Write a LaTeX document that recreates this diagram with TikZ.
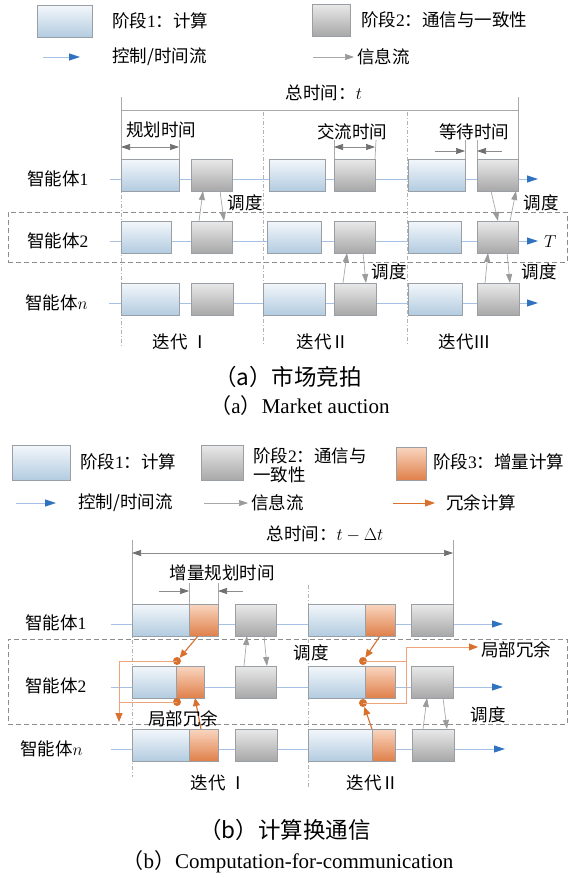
\documentclass[tikz,border=0pt]{standalone}
\usepackage{fontspec}
\setmainfont{Liberation Serif}
\newfontfamily\cjk{Noto Sans CJK SC}
\usetikzlibrary{arrows.meta,calc}
\definecolor{bluetop}{HTML}{F3F7FB}
\definecolor{bluebot}{HTML}{B3CCE0}
\definecolor{graytop}{HTML}{E9E9E9}
\definecolor{graybot}{HTML}{A8A8A8}
\definecolor{orgtop}{HTML}{F9D6C0}
\definecolor{orgbot}{HTML}{E0804A}
\definecolor{boxline}{HTML}{9A9FA6}
\definecolor{tlcol}{HTML}{A7C0E6}
\definecolor{tlarrow}{HTML}{2F72C0}
\definecolor{infocol}{HTML}{A8A8A8}
\definecolor{infotip}{HTML}{9A9A9A}
\definecolor{dimcol}{HTML}{6F6F6F}
\definecolor{orgcol}{HTML}{D8702E}
\definecolor{orglite}{HTML}{ECA47A}
\definecolor{dashcol}{HTML}{8C8C8C}
\definecolor{sepcol}{HTML}{B3B3B3}
\definecolor{vcol}{HTML}{A9A9A9}
\newcommand\zh[1]{{\cjk #1}}
\newcommand\mkbox[6]{\node[#1, minimum width={(#4-#3)*1pt}, minimum height={(#6-#5)*1pt}, anchor=north west] (#2) at (#3,#5) {};}
\tikzset{
  boxbase/.style={draw=boxline, line width=0.6pt, inner sep=0pt, outer sep=0pt},
  bluebox/.style={boxbase, top color=bluetop, bottom color=bluebot},
  graybox/.style={boxbase, top color=graytop, bottom color=graybot},
  orgbox/.style={boxbase, top color=orgtop, bottom color=orgbot},
  framebox/.style={draw=dashcol, line width=0.8pt, dash pattern=on 5pt off 3pt, inner sep=0pt, outer sep=0pt},
  tline/.style={draw=tlcol, line width=0.8pt, -{Triangle[length=11pt,width=7pt,color=tlarrow]}},
  info/.style={draw=infocol, line width=0.7pt, -{Triangle[length=9pt,width=6pt,color=infotip]}},
  dimone/.style={draw=dimcol!80, line width=0.7pt, -{Triangle[length=9pt,width=6pt,color=dimcol]}},
  dimtwo/.style={draw=dimcol!80, line width=0.7pt, {Triangle[length=9pt,width=6pt,color=dimcol]}-{Triangle[length=9pt,width=6pt,color=dimcol]}},
  vline/.style={draw=vcol, line width=0.7pt},
  sepline/.style={draw=sepcol, line width=0.6pt, dash pattern=on 4pt off 2pt on 1pt off 2pt},
  oarrow/.style={draw=orgcol, line width=1.1pt, -{Triangle[length=8pt,width=7pt]}},
  othin/.style={draw=orglite, line width=0.8pt},
  othinarrow/.style={draw=orglite, line width=0.8pt, -{Triangle[length=9pt,width=7pt,color=orgcol]}},
  legorg/.style={draw=orgcol, line width=1pt, -{Triangle[length=10pt,width=7pt]}},
  odot/.style={circle, fill=orgcol, inner sep=0pt, minimum size=8pt},
  lab/.style={inner sep=0pt, font=\fontsize{17.5}{20}\selectfont},
  captext/.style={inner sep=0pt, font=\fontsize{22.5}{26}\selectfont},
  capeng/.style={inner sep=0pt, font=\fontsize{21}{24}\selectfont}
}
\begin{document}
\begin{tikzpicture}[x=1pt,y=-1pt]
\useasboundingbox (0,0) rectangle (571,878);
\fill[white] (0,0) rectangle (571,878);

% ===================== (a) legend =====================
\mkbox{bluebox}{La1}{37}{92}{5}{37}
\node[lab, anchor=west] (La1t) at (112,21) {\zh{阶段}1\zh{：计算}};
\mkbox{graybox}{La2}{312}{350}{4}{36}
\node[lab, anchor=west] (La2t) at (361,20) {\zh{阶段}2\zh{：通信与一致性}};
\coordinate (La3s) at (43,57); \coordinate (La3e) at (80,57);
\draw[tline] (La3s) -- (La3e);
\node[lab, anchor=west] (La3t) at (112,57) {\zh{控制/时间流}};
\coordinate (La4s) at (313,57); \coordinate (La4e) at (354,57);
\draw[info] (La4s) -- (La4e);
\node[lab, anchor=west] (La4t) at (357,57) {\zh{信息流}};

% ===================== (a) diagram =====================
\mkbox{framebox}{aframe}{8}{567}{212}{262}
% separators
\coordinate (sa1t) at (121,159); \coordinate (sa1b) at (121,346);
\coordinate (sa2t) at (263,112); \coordinate (sa2b) at (263,346);
\coordinate (sa3t) at (407,112); \coordinate (sa3b) at (407,346);
\draw[sepline] (sa1t) -- (sa1b);
\draw[sepline] (sa2t) -- (sa2b);
\draw[sepline] (sa3t) -- (sa3b);
% total time
\coordinate (ta1) at (121,97); \coordinate (ta2) at (121,159);
\coordinate (ta3) at (518,97); \coordinate (ta4) at (518,159);
\coordinate (ta5) at (121,110); \coordinate (ta6) at (518,110);
\draw[vline] (ta1) -- (ta2);
\draw[vline] (ta3) -- (ta4);
\draw[vline] (ta5) -- (ta6);
\node[lab] (atot) at (324,93) {\zh{总时间：}$t$};
% timelines
\coordinate (a1s) at (110,179); \coordinate (a1e) at (538,179);
\coordinate (a2s) at (110,241); \coordinate (a2e) at (538,241);
\coordinate (ans) at (109,303); \coordinate (ane) at (538,303);
\draw[tline] (a1s) -- (a1e);
\draw[tline] (a2s) -- (a2e);
\draw[tline] (ans) -- (ane);
% row 1
\mkbox{bluebox}{a1b1}{121}{179}{159}{191}
\mkbox{graybox}{a1g1}{191}{232}{159}{191}
\mkbox{bluebox}{a1b2}{269}{325}{159}{191}
\mkbox{graybox}{a1g2}{334}{375}{159}{191}
\mkbox{bluebox}{a1b3}{408}{465}{159}{191}
\mkbox{graybox}{a1g3}{477}{518}{159}{191}
% row 2
\mkbox{bluebox}{a2b1}{121}{171}{221}{253}
\mkbox{graybox}{a2g1}{191}{232}{221}{253}
\mkbox{bluebox}{a2b2}{267}{321}{221}{253}
\mkbox{graybox}{a2g2}{334}{375}{221}{253}
\mkbox{bluebox}{a2b3}{408}{461}{221}{253}
\mkbox{graybox}{a2g3}{477}{518}{221}{253}
% row n
\mkbox{bluebox}{anb1}{121}{179}{283}{315}
\mkbox{graybox}{ang1}{191}{233}{283}{315}
\mkbox{bluebox}{anb2}{263}{325}{283}{315}
\mkbox{graybox}{ang2}{334}{376}{283}{315}
\mkbox{bluebox}{anb3}{408}{462}{283}{315}
\mkbox{graybox}{ang3}{477}{519}{283}{315}
% dimension marks
\coordinate (da1) at (179,140); \draw[vline] (da1) -- (a1b1.north east);
\coordinate (da2) at (121,147); \coordinate (da3) at (179,147);
\draw[dimtwo] (da2) -- (da3);
\node[lab] (aplan) at (161,130) {\zh{规划时间}};
\coordinate (db1) at (334,140); \draw[vline] (db1) -- (a1g2.north west);
\coordinate (db2) at (376,140); \draw[vline] (db2) -- (a1g2.north east);
\coordinate (db3) at (334,147); \coordinate (db4) at (375,147);
\draw[dimtwo] (db3) -- (db4);
\node[lab] (acomm) at (352,132) {\zh{交流时间}};
\coordinate (dc1) at (465,140); \draw[vline] (dc1) -- (a1b3.north east);
\coordinate (dc2) at (477,140); \draw[vline] (dc2) -- (a1g3.north west);
\coordinate (dc3) at (435,151); \coordinate (dc4) at (465,151);
\coordinate (dc5) at (502,151); \coordinate (dc6) at (477,151);
\draw[dimone] (dc3) -- (dc4);
\draw[dimone] (dc5) -- (dc6);
\node[lab] (await) at (474,132) {\zh{等待时间}};
% info arrows
\draw[info] ([xshift=8pt]a2g1.north west) -- ([xshift=12pt]a1g1.south west);
\draw[info] ([xshift=29pt]a1g1.south west) -- ([xshift=33pt]a2g1.north west);
\node[lab] (asch1) at (245,203) {\zh{调度}};
\draw[info] ([xshift=14pt]a1g3.south west) -- ([xshift=21pt]a2g3.north west);
\draw[info] ([xshift=33pt]a2g3.north west) -- ([xshift=39pt]a1g3.south west);
\node[lab] (asch2) at (541,203) {\zh{调度}};
\draw[info] ([xshift=9pt]ang2.north west) -- ([xshift=13pt]a2g2.south west);
\draw[info] ([xshift=29pt]a2g2.south west) -- ([xshift=32pt]ang2.north west);
\node[lab] (asch3) at (389,272) {\zh{调度}};
\draw[info] ([xshift=8pt]ang3.north west) -- ([xshift=11pt]a2g3.south west);
\draw[info] ([xshift=30pt]a2g3.south west) -- ([xshift=33pt]ang3.north west);
\node[lab] (asch4) at (539,272) {\zh{调度}};
% labels
\node[lab, anchor=west] (aag1) at (27,179) {\zh{智能体}1};
\node[lab, anchor=west] (aag2) at (27,241) {\zh{智能体}2};
\node[lab, anchor=west] (aagn) at (25,303) {\zh{智能体}$n$};
\node[lab, anchor=west] (aT) at (544,242) {$T$};
\node[lab] (ait1) at (181,342) {\zh{迭代 Ⅰ}};
\node[lab] (ait2) at (323,342) {\zh{迭代Ⅱ}};
\node[lab] (ait3) at (465,342) {\zh{迭代Ⅲ}};
\node[captext] (acap1) at (288,377) {\zh{（a）市场竞拍}};
\node[capeng] (acap2) at (300,406) {\zh{（}a\zh{）}Market auction};

% ===================== (b) legend =====================
\mkbox{bluebox}{Lb1}{12}{70}{445}{480}
\node[lab, anchor=west] (Lb1t) at (80,462) {\zh{阶段}1\zh{：计算}};
\mkbox{graybox}{Lb2}{201}{243}{445}{480}
\node[lab, anchor=west] (Lb2t) at (253,456) {\zh{阶段}2\zh{：通信与}};
\node[lab, anchor=west] (Lb2u) at (253,475) {\zh{一致性}};
\mkbox{orgbox}{Lb3}{396}{426}{447}{480}
\node[lab, anchor=west] (Lb3t) at (433,462) {\zh{阶段}3\zh{：增量计算}};
\coordinate (Lb4s) at (16,503); \coordinate (Lb4e) at (56,503);
\draw[tline] (Lb4s) -- (Lb4e);
\node[lab, anchor=west] (Lb4t) at (78,503) {\zh{控制/时间流}};
\coordinate (Lb5s) at (204,503); \coordinate (Lb5e) at (248,503);
\draw[info] (Lb5s) -- (Lb5e);
\node[lab, anchor=west] (Lb5t) at (251,503) {\zh{信息流}};
\coordinate (Lb6s) at (393,503); \coordinate (Lb6e) at (435,503);
\draw[legorg] (Lb6s) -- (Lb6e);
\node[lab, anchor=west] (Lb6t) at (446,503) {\zh{冗余计算}};

% ===================== (b) diagram =====================
\mkbox{framebox}{bframe}{8}{567}{639}{724}
\coordinate (sb1t) at (132,604); \coordinate (sb1b) at (132,777);
\coordinate (sb2t) at (308,585); \coordinate (sb2b) at (308,787);
\draw[sepline] (sb1t) -- (sb1b);
\draw[sepline] (sb2t) -- (sb2b);
% total time
\coordinate (tb1) at (132,540); \coordinate (tb2) at (132,604);
\coordinate (tb3) at (453,540); \coordinate (tb4) at (453,604);
\coordinate (tb5) at (132,553); \coordinate (tb6) at (453,553);
\draw[vline] (tb1) -- (tb2);
\draw[vline] (tb3) -- (tb4);
\draw[dimtwo] (tb5) -- (tb6);
\node[lab] (btot) at (325,534) {\zh{总时间：}$t-\Delta t$};
% timelines
\coordinate (b1s) at (111,624); \coordinate (b1e) at (503,624);
\coordinate (b2s) at (111,687); \coordinate (b2e) at (503,687);
\coordinate (bns) at (111,749); \coordinate (bne) at (505,749);
\draw[tline] (b1s) -- (b1e);
\draw[tline] (b2s) -- (b2e);
\draw[tline] (bns) -- (bne);
% row 1
\mkbox{bluebox}{b1b1}{132}{189}{604}{636}
\mkbox{orgbox}{b1o1}{189}{218}{604}{636}
\mkbox{graybox}{b1g1}{235}{276}{604}{636}
\mkbox{bluebox}{b1b2}{308}{365}{604}{636}
\mkbox{orgbox}{b1o2}{365}{395}{604}{636}
\mkbox{graybox}{b1g2}{411}{453}{604}{636}
% row 2
\mkbox{bluebox}{b2b1}{132}{176}{666}{698}
\mkbox{orgbox}{b2o1}{176}{204}{666}{698}
\mkbox{graybox}{b2g1}{235}{276}{666}{698}
\mkbox{bluebox}{b2b2}{308}{365}{666}{698}
\mkbox{orgbox}{b2o2}{365}{395}{666}{698}
\mkbox{graybox}{b2g2}{411}{453}{666}{698}
% row n
\mkbox{bluebox}{bnb1}{132}{189}{729}{761}
\mkbox{orgbox}{bno1}{189}{218}{729}{761}
\mkbox{graybox}{bng1}{235}{277}{729}{761}
\mkbox{bluebox}{bnb2}{308}{372}{729}{761}
\mkbox{orgbox}{bno2}{372}{395}{729}{761}
\mkbox{graybox}{bng2}{412}{454}{729}{761}
% incremental planning time
\coordinate (de1) at (189,583); \draw[vline] (de1) -- (b1o1.north west);
\coordinate (de2) at (218,583); \draw[vline] (de2) -- (b1o1.north east);
\coordinate (de3) at (159,591); \coordinate (de4) at (189,591);
\coordinate (de5) at (243,591); \coordinate (de6) at (218,591);
\draw[dimone] (de3) -- (de4);
\draw[dimone] (de5) -- (de6);
\node[lab] (bplan) at (222,573) {\zh{增量规划时间}};
% info arrows
\draw[info] ([xshift=9pt]b2g1.north west) -- ([xshift=12pt]b1g1.south west);
\draw[info] ([xshift=29pt]b1g1.south west) -- ([xshift=32pt]b2g1.north west);
\node[lab] (bsch1) at (311,653) {\zh{调度}};
\draw[info] ([xshift=11pt]bng2.north west) -- ([xshift=16pt]b2g2.south west);
\draw[info] ([xshift=32pt]b2g2.south west) -- ([xshift=35pt]bng2.north west);
\node[lab] (bsch2) at (488,715) {\zh{调度}};
% orange redundancy paths
\node[odot] (d1) at (177,661) {};
\node[odot] (d2) at (177,702) {};
\node[odot] (d3) at (363,661) {};
\node[odot] (d4) at (363,703) {};
\coordinate (c1) at (119,661); \coordinate (c2) at (119,722);
\draw[othinarrow] (d1.center) -- (c1) -- (c2);
\draw[othin] (d2.center) -- (d2.center -| c1);
\coordinate (c3) at (406,647); \coordinate (c4) at (478,647);
\draw[othin] (d3.center) -- (d3.center -| c3);
\draw[othinarrow] (d4.center) -- (d4.center -| c3) -- (c3) -- (c4);
\draw[oarrow] ([xshift=9pt]b1o1.south west) -- (d1);
\draw[oarrow] ([xshift=12pt]bno1.north west) -- ([xshift=19pt]b2o1.south west);
\draw[oarrow] ([xshift=15pt]b1o2.south west) -- (d3);
\draw[oarrow] (bno2.north west) -- (d4);
\node[lab] (bloc1) at (183,719) {\zh{局部冗余}};
\node[lab, anchor=west] (bloc2) at (481,650) {\zh{局部冗余}};
% labels
\node[lab, anchor=west] (bag1) at (25,623) {\zh{智能体}1};
\node[lab, anchor=west] (bag2) at (25,686) {\zh{智能体}2};
\node[lab, anchor=west] (bagn) at (20,749) {\zh{智能体}$n$};
\node[lab] (bit1) at (219,783) {\zh{迭代 Ⅰ}};
\node[lab] (bit2) at (373,783) {\zh{迭代Ⅱ}};
\node[captext] (bcap1) at (285,830) {\zh{（b）计算换通信}};
\node[capeng] (bcap2) at (288,862) {\zh{（}b\zh{）}Computation-for-communication};
\end{tikzpicture}
\end{document}
